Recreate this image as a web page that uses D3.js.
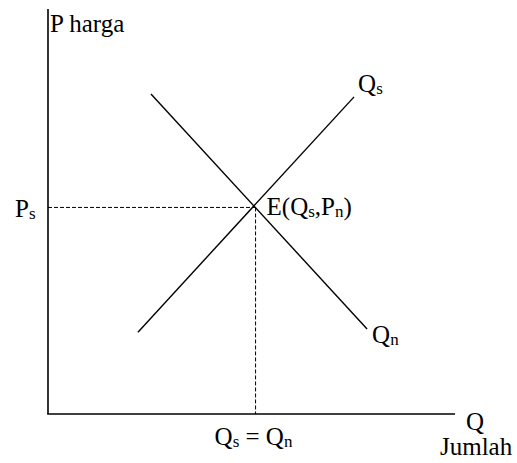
<!DOCTYPE html>
<html>
<head>
<meta charset="utf-8">
<script src="https://cdn.jsdelivr.net/npm/d3@7"></script>
<style>
  html, body { margin: 0; padding: 0; background: #fff; }
  svg { display: block; }
  text { font-family: "Liberation Serif", "Times New Roman", serif; fill: #000; }
</style>
</head>
<body>
<svg id="chart" width="517" height="463"></svg>
<script>
// Supply (Qs) and demand (Qn) lines, in axis units
const supplyX = [2.21, 7.52];
const supplyY = [2.02, 7.83];
const demandX = [2.53, 7.84];
const demandY = [7.90, 2.10];
// Equilibrium point E
const equilibrium = [5.1, 5.1];
// Axis extents
const xDomain = [0, 10];
const yDomain = [0, 10];

const svg = d3.select("#chart");
const x = d3.scaleLinear().domain(xDomain).range([48, 455]);
const y = d3.scaleLinear().domain(yDomain).range([414, 9]);

// Axes: plain lines without ticks
svg.append("line")
  .attr("x1", x(0)).attr("y1", y(yDomain[1]))
  .attr("x2", x(0)).attr("y2", y(0))
  .attr("stroke", "#000").attr("stroke-width", 1.6);
svg.append("line")
  .attr("x1", x(0) - 0.8).attr("y1", y(0))
  .attr("x2", x(xDomain[1])).attr("y2", y(0))
  .attr("stroke", "#000").attr("stroke-width", 1.6);

// Dashed guides from the equilibrium to each axis
svg.append("line")
  .attr("x1", x(0)).attr("y1", y(equilibrium[1]))
  .attr("x2", x(equilibrium[0])).attr("y2", y(equilibrium[1]))
  .attr("stroke", "#000").attr("stroke-width", 1).attr("stroke-dasharray", "4,2");
svg.append("line")
  .attr("x1", x(equilibrium[0])).attr("y1", y(equilibrium[1]))
  .attr("x2", x(equilibrium[0])).attr("y2", y(0))
  .attr("stroke", "#000").attr("stroke-width", 1).attr("stroke-dasharray", "4,2");

const line = d3.line().x(d => x(d[0])).y(d => y(d[1]));
const supply = d3.zip(supplyX, supplyY);
const demand = d3.zip(demandX, demandY);
[supply, demand].forEach(pts => {
  svg.append("path").attr("d", line(pts))
    .attr("fill", "none").attr("stroke", "#000").attr("stroke-width", 1.4);
});

// Label helper: main text with optional subscripted parts
function label(parts, px, py) {
  const t = svg.append("text").attr("x", px).attr("y", py).attr("font-size", 25);
  parts.forEach(p => {
    const s = t.append("tspan").text(p.t);
    if (p.sub) s.attr("font-size", 17).attr("dy", 2);
    else if (p.after) s.attr("dy", -2);
  });
  return t;
}

label([{t: "P harga"}], x(0) + 2, 32);
label([{t: "Q"}, {t: "s", sub: true}], x(supplyX[1]) + 4, y(supplyY[1]) - 5);
label([{t: "Q"}, {t: "n", sub: true}], x(demandX[1]) + 5, y(demandY[1]) + 14);
label([{t: "P"}, {t: "s", sub: true}], x(0) - 33, y(equilibrium[1]) + 10);
label([{t: "E(Q"}, {t: "s", sub: true}, {t: ",P", after: true}, {t: "n", sub: true}, {t: ")", after: true}],
  x(equilibrium[0]) + 11, y(equilibrium[1]) + 8);
label([{t: "Q"}, {t: "s", sub: true}, {t: " = Q", after: true}, {t: "n", sub: true}],
  x(equilibrium[0]) - 41, y(0) + 31);
label([{t: "Q"}], x(xDomain[1]) + 11, y(0) + 16);
label([{t: "Jumlah"}], x(xDomain[1]) - 15, y(0) + 41);
</script>
</body>
</html>
